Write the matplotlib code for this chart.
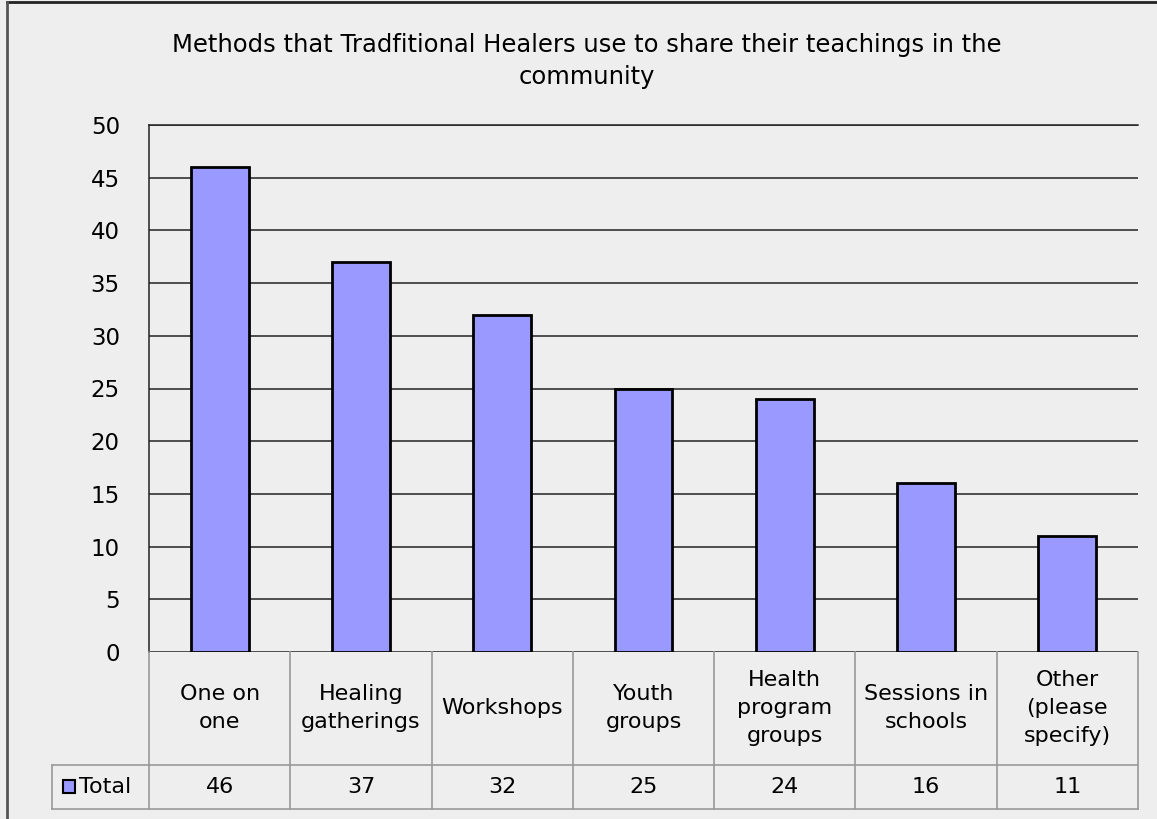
import matplotlib.pyplot as plt
from matplotlib.transforms import blended_transform_factory
from matplotlib.lines import Line2D

# --- data ---
categories = ["One on\none", "Healing\ngatherings", "Workshops", "Youth\ngroups",
              "Health\nprogram\ngroups", "Sessions in\nschools", "Other\n(please\nspecify)"]
totals = [46, 37, 32, 25, 24, 16, 11]
series_name = "Total"
y_ticks = [0, 5, 10, 15, 20, 25, 30, 35, 40, 45, 50]
title = "Methods that Tradfitional Healers use to share their teachings in the\ncommunity"

W, H = 1157, 819
bg = "#eeeeee"
bar_color = "#9999ff"
table_color = "#999999"
plt.rcParams["font.family"] = ["DejaVu Sans"]

fig = plt.figure(figsize=(W / 100, H / 100), dpi=100, facecolor=bg)

def fx(px):
    return px / W

def fy(py):
    return 1 - py / H

# plot area
ax = fig.add_axes([fx(149), fy(652), fx(1138) - fx(149), fy(125) - fy(652)])
ax.set_facecolor(bg)
n = len(categories)
xs = list(range(n))
ax.bar(xs, totals, width=0.41, color=bar_color, edgecolor="black", linewidth=2, zorder=3)
ax.set_xlim(-0.5, n - 0.5)
ax.set_ylim(0, 50)
ax.set_yticks(y_ticks)
ax.set_yticklabels([str(t) for t in y_ticks], fontsize=16.5)
ax.tick_params(axis="y", length=0, pad=21, colors="black")
ax.set_xticks([])
for t in y_ticks:
    ax.axhline(t, color="#222222", linewidth=1.1, zorder=1)
for s in ["right", "bottom"]:
    ax.spines[s].set_visible(False)
ax.spines["left"].set_color("#222222")
ax.spines["top"].set_color("#222222")
ax.spines["left"].set_linewidth(1.1)
ax.spines["top"].set_linewidth(1.1)

# title
fig.text(0.507, fy(61), title, ha="center", va="center", fontsize=17.5, linespacing=1.4)

# --- data table under the axis ---
tr = blended_transform_factory(ax.transData, fig.transFigure)
y_top, y_mid, y_bot = fy(652), fy(765), fy(809)
lw = 1.2
for i in range(n + 1):
    xb = i - 0.5
    fig.add_artist(Line2D([xb, xb], [y_bot, y_top], transform=tr, color=table_color, lw=lw))
fig.add_artist(Line2D([-0.5, n - 0.5], [y_mid, y_mid], transform=tr, color=table_color, lw=lw))
fig.add_artist(Line2D([fx(52), fx(149)], [y_mid, y_mid], transform=fig.transFigure, color=table_color, lw=lw))
fig.add_artist(Line2D([fx(52), fx(1138)], [y_bot, y_bot], transform=fig.transFigure, color=table_color, lw=lw))
fig.add_artist(Line2D([fx(52), fx(52)], [y_bot, y_mid], transform=fig.transFigure, color=table_color, lw=lw))

for x, cat, v in zip(xs, categories, totals):
    fig.text(x, (y_top + y_mid) / 2 + 0.001, cat, transform=tr, ha="center", va="center",
             fontsize=16, linespacing=1.5)
    fig.text(x, (y_mid + y_bot) / 2, str(v), transform=tr, ha="center", va="center", fontsize=16)

# legend key in the row header
fig.add_artist(plt.Rectangle((fx(63), fy(793)), fx(12), fy(780) - fy(793),
                             transform=fig.transFigure, facecolor=bar_color,
                             edgecolor="black", lw=1.5))
fig.text(fx(79), (y_mid + y_bot) / 2, series_name, ha="left", va="center", fontsize=16)

# outer chart border (top and left visible)
fig.add_artist(Line2D([fx(7), 1], [fy(2), fy(2)], transform=fig.transFigure, color="#222222", lw=2))
fig.add_artist(Line2D([fx(7), fx(7)], [0, fy(2)], transform=fig.transFigure, color="#555555", lw=2))

fig.savefig("out.png", dpi=100, facecolor=bg)
